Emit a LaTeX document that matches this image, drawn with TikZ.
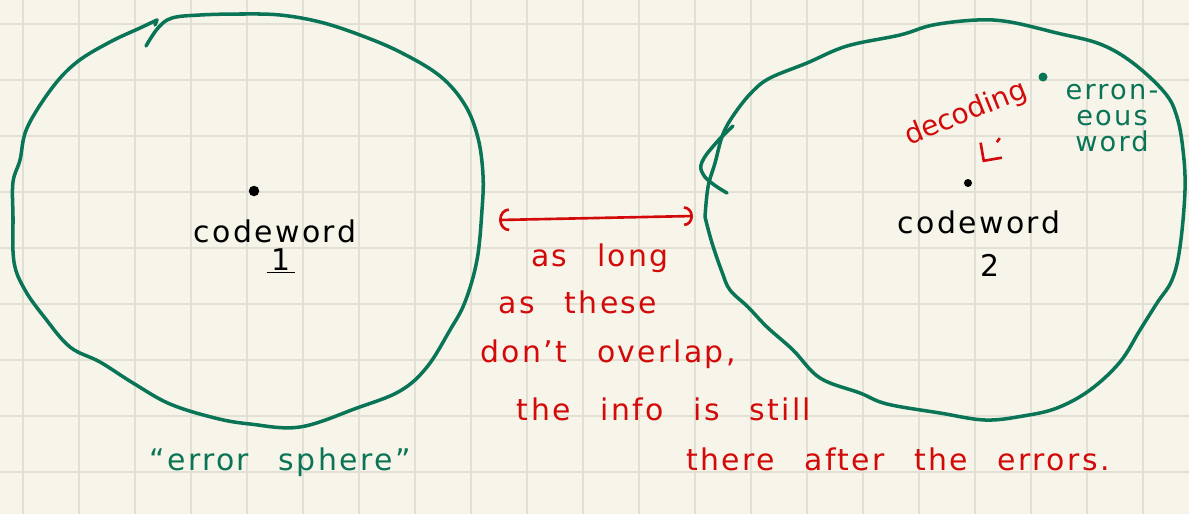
\documentclass[tikz,border=0pt]{standalone}
\usepackage{fontspec}
\usepackage{tikz}
\usetikzlibrary{arrows.meta}
\newfontfamily\hand[Ligatures=TeX, WordSpace=2.5, LetterSpace=8]{DejaVu Sans}
\newfontfamily\handtight[Ligatures=TeX]{DejaVu Sans}
\definecolor{paperbg}{HTML}{F7F5EA}
\definecolor{gridgray}{HTML}{E2E0D4}
\definecolor{inkgreen}{HTML}{0A7456}
\definecolor{inkred}{HTML}{D20A0A}
\tikzset{
  gridln/.style  = {draw=gridgray, line width=1.1pt},
  sphere/.style  = {draw=inkgreen, line width=2pt, line cap=round, line join=round},
  pen/.style     = {font=\hand\fontsize{17}{20}\selectfont, inner sep=0pt},
  smallpen/.style= {font=\hand\fontsize{15.5}{15}\selectfont, inner sep=0pt},
  redpen/.style  = {pen, text=inkred},
  dotmark/.style = {circle, fill=black, inner sep=0pt, minimum size=2.1mm},
  gaparrow/.style= {{Arc Barb[length=2mm, width=4.6mm]}-{Arc Barb[length=1.8mm, width=4mm]},
                    draw=inkred, line width=1.5pt},
  decarrow/.style= {-{Straight Barb[length=2.6mm, width=5.2mm]}, draw=inkred, line width=1.5pt,
                    dash pattern=on 1mm off 30mm, shorten <=14mm, shorten >=4.2mm},
}
\begin{document}
\begin{tikzpicture}[x=0.2mm, y=-0.2mm]
\useasboundingbox (0,0) rectangle (1189,514);
\fill[paperbg] (0,0) rectangle (1189,514);
% squared paper
\foreach \gx in {23,79,...,1143} \draw[gridln] (\gx,0) -- (\gx,514);
\foreach \gy in {24,80,...,472} \draw[gridln] (0,\gy) -- (1189,\gy);

% left error sphere
\draw[sphere] plot[smooth, tension=0.6] coordinates {
  (146,46) (158,28) (172,18) (200,15) (240,14) (280,15) (320,22) (360,35) (400,52)
  (440,76) (465,105) (478,138) (483,175) (482,210) (477,260) (465,302) (450,330)
  (427,367) (400,391) (357,408) (300,427) (250,424) (215,418) (170,404) (133,383)
  (100,362) (70,347) (45,318) (25,290) (14,262) (13,217) (13,182) (20,160) (27,128)
  (52,88) (77,62) (110,42) (140,28) (157,20)};
\draw[sphere] (157,20) -- (155,25);

% right error sphere
\draw[sphere] plot[smooth, tension=0.6] coordinates {
  (705,217) (708,187) (715,163) (723,134) (735,113) (752,92) (770,78) (807,63)
  (847,46) (900,35) (933,25) (977,20) (1010,22) (1057,33) (1100,44) (1133,63)
  (1165,93) (1177,117) (1183,150) (1185,190) (1180,247) (1172,280) (1157,303)
  (1140,330) (1120,362) (1090,390) (1057,408) (1023,416) (985,420) (940,413)
  (887,404) (860,393) (820,378) (793,350) (767,327) (748,307) (730,290) (722,272)
  (712,243) (705,217)};
\draw[sphere] plot[smooth, tension=0.7] coordinates {
  (733,126) (716,143) (702,162) (703,174) (713,184) (727,193)};

% codewords
\node[dotmark] (cw1dot) at (254,191) {};
\node[pen, anchor=base] (cw1) at (275,242) {codeword};
\node[pen, anchor=base] (cw1num) at (281,270) {\underline{\,1\,}};
\node[dotmark, minimum size=1.6mm] (cw2dot) at (968,183) {};
\node[pen, anchor=base] (cw2) at (979,233) {codeword};
\node[pen, anchor=base] (cw2num) at (990,276) {2};

% erroneous word and decoding
\node[dotmark, fill=inkgreen, minimum size=1.8mm] (errdot) at (1043,77) {};
\node[smallpen, text=inkgreen, align=center] (errword) at (1112,118) {erron-\\eous\\word};
\node[text=inkred, inner sep=0pt, rotate=22, font=\handtight\fontsize{16}{18}\selectfont]
  (dec) at (966,114) {decoding};
\draw[decarrow] (errdot) -- (cw2dot);

% distance between the spheres
\coordinate (gapL) at (499,220);
\coordinate (gapR) at (693,216);
\draw[gaparrow] (gapL) -- (gapR);
\node[redpen, anchor=base] (l1) at (600,266) {as long};
\node[redpen, anchor=base] (l2) at (578,313) {as these};
\node[redpen, anchor=base] (l3) at (608,362) {don't overlap,};
\node[redpen, anchor=base] (l4) at (664,420) {the info is still};
\node[redpen, anchor=base] (l5) at (898,470) {there after the errors.};

\node[pen, text=inkgreen, anchor=base] (esph) at (280,470) {``error sphere''};
\end{tikzpicture}
\end{document}
